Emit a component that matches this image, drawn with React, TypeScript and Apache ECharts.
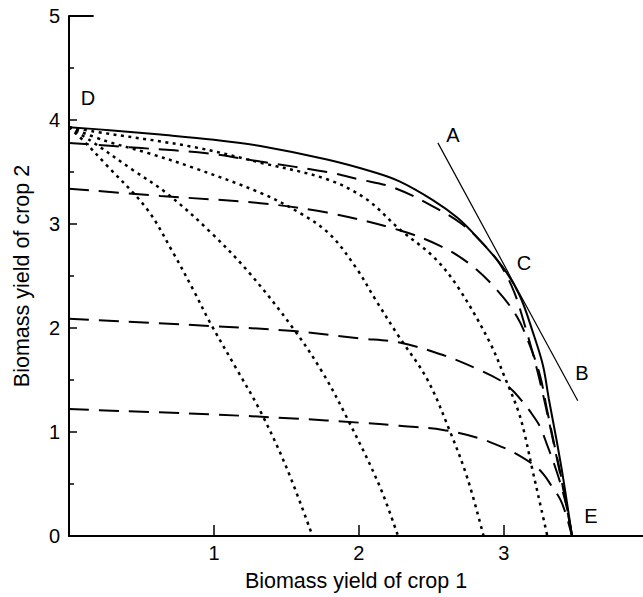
import React, { useEffect, useRef } from "react";
import * as echarts from "echarts";

// Axis ticks
const xTickValues = [0, 1, 2, 3];
const yTickValues = [0, 1, 2, 3, 4, 5];

// Outer frontier (solid) D -> C -> E
const solidFrontier: [number, number][] = [
  [0, 3.93], [0.3, 3.9], [0.63, 3.86], [1.0, 3.81], [1.32, 3.75], [1.78, 3.62],
  [2.1, 3.5], [2.28, 3.41], [2.51, 3.23], [2.68, 3.06], [2.81, 2.88], [2.99, 2.59],
  [3.11, 2.31], [3.2, 1.96], [3.27, 1.64], [3.31, 1.32], [3.36, 0.95], [3.41, 0.55], [3.47, 0],
];

// Dashed curves
const dashedA: [number, number][] = [
  [0, 3.78], [0.5, 3.73], [0.95, 3.68], [1.32, 3.6], [1.78, 3.5], [2.0, 3.43], [2.24, 3.35],
  [2.51, 3.17], [2.7, 3.01], [2.83, 2.85], [2.97, 2.62], [3.07, 2.35], [3.15, 2.0],
  [3.22, 1.65], [3.28, 1.3], [3.35, 0.85], [3.41, 0.45], [3.47, 0],
];
const dashedB: [number, number][] = [
  [0, 3.34], [0.63, 3.27], [1.32, 3.2], [1.78, 3.11], [2.28, 2.94], [2.56, 2.79],
  [2.77, 2.61], [2.95, 2.37], [3.09, 2.11], [3.18, 1.83], [3.25, 1.54], [3.3, 1.2],
  [3.36, 0.8], [3.42, 0.4], [3.47, 0],
];
const dashedC: [number, number][] = [
  [0, 2.09], [0.97, 2.02], [1.55, 1.97], [2.0, 1.9], [2.28, 1.86], [2.58, 1.74],
  [2.81, 1.61], [2.97, 1.5], [3.06, 1.4], [3.13, 1.29], [3.19, 1.18], [3.25, 1.05],
  [3.3, 0.87], [3.35, 0.68], [3.4, 0.46], [3.44, 0.24], [3.47, 0],
];
const dashedD: [number, number][] = [
  [0, 1.22], [0.97, 1.17], [1.55, 1.13], [2.0, 1.09], [2.28, 1.06], [2.58, 1.02],
  [2.83, 0.94], [2.98, 0.86], [3.06, 0.81], [3.2, 0.69], [3.27, 0.6], [3.33, 0.48],
  [3.39, 0.35], [3.43, 0.2], [3.47, 0],
];

// Dotted curves
const dottedA: [number, number][] = [
  [0, 3.93], [0.1, 3.8], [0.25, 3.58], [0.54, 3.14], [0.72, 2.72], [0.86, 2.36],
  [0.97, 2.06], [1.15, 1.62], [1.32, 1.2], [1.5, 0.66], [1.68, 0],
];
const dottedB: [number, number][] = [
  [0, 3.93], [0.15, 3.8], [0.44, 3.52], [0.67, 3.3], [0.97, 2.93], [1.25, 2.52],
  [1.55, 1.99], [1.75, 1.57], [1.92, 1.13], [2.14, 0.49], [2.27, 0],
];
const dottedC: [number, number][] = [
  [0, 3.93], [0.25, 3.8], [0.55, 3.68], [0.86, 3.54], [1.32, 3.3], [1.6, 3.1],
  [1.8, 2.9], [1.98, 2.58], [2.12, 2.26], [2.27, 1.93], [2.47, 1.51], [2.63, 1.0],
  [2.75, 0.55], [2.86, 0],
];
const dottedD: [number, number][] = [
  [0, 3.93], [0.17, 3.89], [0.86, 3.74], [1.32, 3.59], [1.78, 3.43], [2.05, 3.24],
  [2.28, 2.95], [2.51, 2.69], [2.68, 2.4], [2.9, 1.87], [3.02, 1.48], [3.1, 1.2],
  [3.14, 1.0], [3.2, 0.62], [3.26, 0.25], [3.3, 0],
];

// Tangent A-B and the cap at y = 5
const tangentAB: [number, number][] = [[2.545, 3.78], [3.51, 1.3]];
const topCap: [number, number][] = [[0, 5], [0.17, 5]];

const pointLetters = ["A", "B", "C", "D", "E"];

const FONT = "Liberation Sans, Arial, Helvetica, sans-serif";

export default function App() {
  const ref = useRef<HTMLDivElement>(null);
  useEffect(() => {
    if (!ref.current) return;
    const chart = echarts.init(ref.current, undefined, { renderer: "svg" });
    const lineSeries = (data: [number, number][], type: any, width: number) => ({
      type: "line",
      data,
      showSymbol: false,
      smooth: 0.35,
      silent: true,
      lineStyle: { color: "#000", width, type, cap: "butt" },
      z: 3,
    });
    const labelPos: Record<string, [number, number]> = {
      A: [453, 135],
      B: [582, 373],
      C: [524, 263],
      D: [88, 98],
      E: [591, 516],
    };
    chart.setOption({
      animation: false,
      backgroundColor: "#fff",
      grid: { left: 69, right: 0, top: 16, bottom: 59, containLabel: false },
      xAxis: {
        type: "value",
        min: 0,
        max: 3.96,
        interval: 1,
        name: "Biomass yield of crop 1",
        nameLocation: "middle",
        nameGap: 34,
        nameTextStyle: { fontFamily: FONT, fontSize: 21.5, color: "#000" },
        axisLine: { show: true, onZero: false, lineStyle: { color: "#000", width: 2 } },
        axisTick: { show: true, inside: true, length: 11, lineStyle: { color: "#000", width: 1.5 } },
        axisLabel: {
          fontFamily: FONT,
          fontSize: 20,
          color: "#000",
          margin: 7,
          showMaxLabel: false,
          formatter: (v: number) => (xTickValues.includes(v) && v !== 0 ? String(v) : ""),
        },
        splitLine: { show: false },
      },
      yAxis: {
        type: "value",
        min: 0,
        max: 5,
        interval: 1,
        name: "Biomass yield of crop 2",
        nameLocation: "middle",
        nameGap: 36,
        nameRotate: 90,
        nameTextStyle: { fontFamily: FONT, fontSize: 21.5, color: "#000" },
        axisLine: { show: true, onZero: false, lineStyle: { color: "#000", width: 2 } },
        axisTick: { show: true, inside: true, length: 8, lineStyle: { color: "#000", width: 1.5 } },
        minorTick: { show: true, splitNumber: 2, length: 5, lineStyle: { color: "#000", width: 1.5 } },
        axisLabel: {
          fontFamily: FONT,
          fontSize: 20,
          color: "#000",
          margin: 9,
          formatter: (v: number) => (yTickValues.includes(v) ? String(v) : ""),
        },
        splitLine: { show: false },
        minorSplitLine: { show: false },
      },
      series: [
        lineSeries(topCap, "solid", 2),
        lineSeries(dottedA, [3, 4.5], 2.5),
        lineSeries(dottedB, [3, 4.5], 2.5),
        lineSeries(dottedC, [3, 4.5], 2.5),
        lineSeries(dottedD, [3, 4.5], 2.5),
        lineSeries(dashedD, [20, 10], 2),
        lineSeries(dashedC, [20, 10], 2),
        lineSeries(dashedB, [20, 10], 2),
        lineSeries(dashedA, [20, 10], 2),
        lineSeries(solidFrontier, "solid", 2),
        { ...lineSeries(tangentAB, "solid", 1.2), smooth: false },
      ],
      graphic: pointLetters.map((t) => ({
        type: "text",
        x: labelPos[t][0],
        y: labelPos[t][1],
        style: {
          text: t,
          fontFamily: FONT,
          fontSize: 20,
          fill: "#000",
          align: "center",
          verticalAlign: "middle",
        },
        z: 10,
      })),
    });
    return () => chart.dispose();
  }, []);
  return (
    <div
      ref={ref}
      style={{ position: "absolute", left: 0, top: 0, width: 643, height: 597, background: "#fff" }}
    />
  );
}
